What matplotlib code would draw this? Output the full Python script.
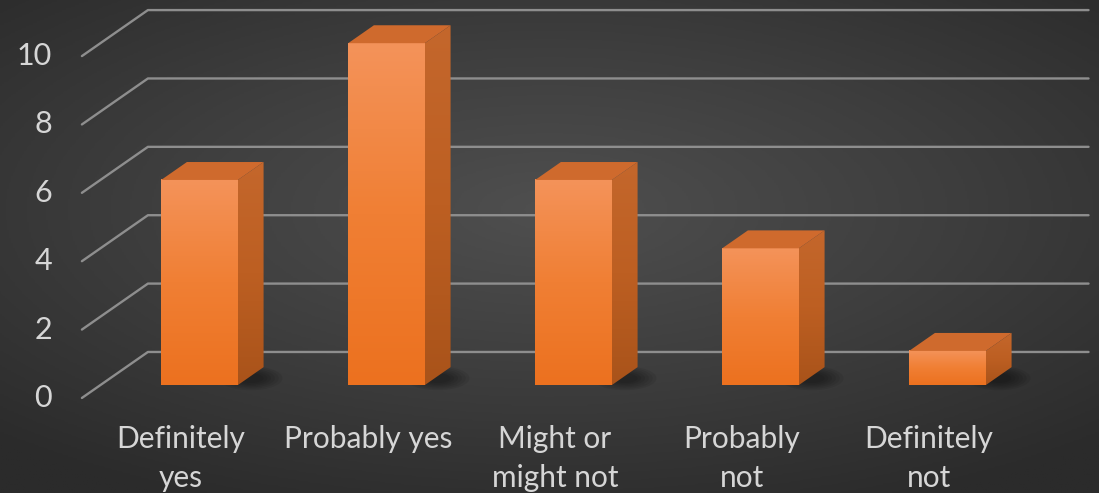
import numpy as np
import matplotlib.pyplot as plt
from matplotlib.patches import Polygon, Ellipse
from matplotlib.colors import LinearSegmentedColormap

categories = ['Definitely\nyes', 'Probably yes', 'Might or\nmight not', 'Probably\nnot', 'Definitely\nnot']
values = [6, 10, 6, 4, 1]
yticks = [0, 2, 4, 6, 8, 10]

# oblique "3d" projection: depth vector in (category, value) units
DX, DY = 0.353, 1.345
D0, D1 = 0.28, 0.67      # bar front / back depth
BW = 0.41                # bar width
XL, XR = -0.53, 4.5      # floor extent at the front plane

FONT = ['Lato', 'DejaVu Sans']
TXT = '#d6d6d6'

fig = plt.figure(figsize=(10.99, 4.93), dpi=100)
ax = fig.add_axes([0, 0, 1, 1])
ax.set_axis_off()

# dark radial background
yy, xx = np.mgrid[-1:1:300j, -1:1:600j]
r = np.sqrt((xx * 1.0) ** 2 + ((yy + 0.15) * 1.1) ** 2)
bg = LinearSegmentedColormap.from_list('bg', ['#4f4f4f', '#3e3e3e', '#2b2b2b'])
ax.imshow(r, cmap=bg, vmin=0, vmax=1.45, extent=[0, 1, 0, 1], transform=ax.transAxes,
          aspect='auto', zorder=0)

# gridlines: left wall diagonal + back wall
for v in yticks:
    ax.plot([XL, XL + DX, XR + DX], [v, v + DY, v + DY], color='#8e8e8e', lw=1.7,
            solid_capstyle='round', zorder=1)
    ax.text(XL - 0.16, v, str(v), ha='right', va='center', color=TXT, fontsize=22,
            family=FONT, zorder=5)

front_cmap = LinearSegmentedColormap.from_list('front', ['#ec711f', '#f07f34', '#f4935a'])
side_cmap = LinearSegmentedColormap.from_list('side', ['#a9531a', '#bd5f22', '#c4672c'])
grad = np.linspace(0, 1, 256).reshape(-1, 1)

bdx = (D1 - D0) * DX
bdy = (D1 - D0) * DY
for i, v in enumerate(values):
    x0 = i - BW / 2 + D0 * DX
    x1 = x0 + BW
    yb = D0 * DY
    yt = yb + v

    # soft shadow on the floor, a few stacked faint ellipses
    for k in np.linspace(1.0, 0.4, 6):
        ax.add_patch(Ellipse((x1 + bdx * 0.5, yb + 0.2), 0.34 * k, 0.7 * k,
                             color='black', alpha=0.07, lw=0, zorder=2))

    # front face
    ax.imshow(grad, cmap=front_cmap, origin='lower', extent=[x0, x1, yb, yt],
              aspect='auto', zorder=3)

    # side face
    side = Polygon([(x1, yb), (x1 + bdx, yb + bdy), (x1 + bdx, yt + bdy), (x1, yt)],
                   closed=True, facecolor='none', edgecolor='none')
    ax.add_patch(side)
    im = ax.imshow(grad, cmap=side_cmap, origin='lower',
                   extent=[x1, x1 + bdx, yb, yt + bdy], aspect='auto', zorder=3)
    im.set_clip_path(side)

    # top face
    ax.add_patch(Polygon([(x0, yt), (x1, yt), (x1 + bdx, yt + bdy), (x0 + bdx, yt + bdy)],
                         closed=True, facecolor='#cf6a2d', edgecolor='none', zorder=3))

    ax.text(i, -0.78, categories[i], ha='center', va='top', color=TXT, fontsize=21.5,
            linespacing=1.5, family=FONT, zorder=5)

ax.set_xlim(-0.968, 4.909)
ax.set_ylim(-2.78, 11.64)

fig.savefig('out.png', dpi=100)
